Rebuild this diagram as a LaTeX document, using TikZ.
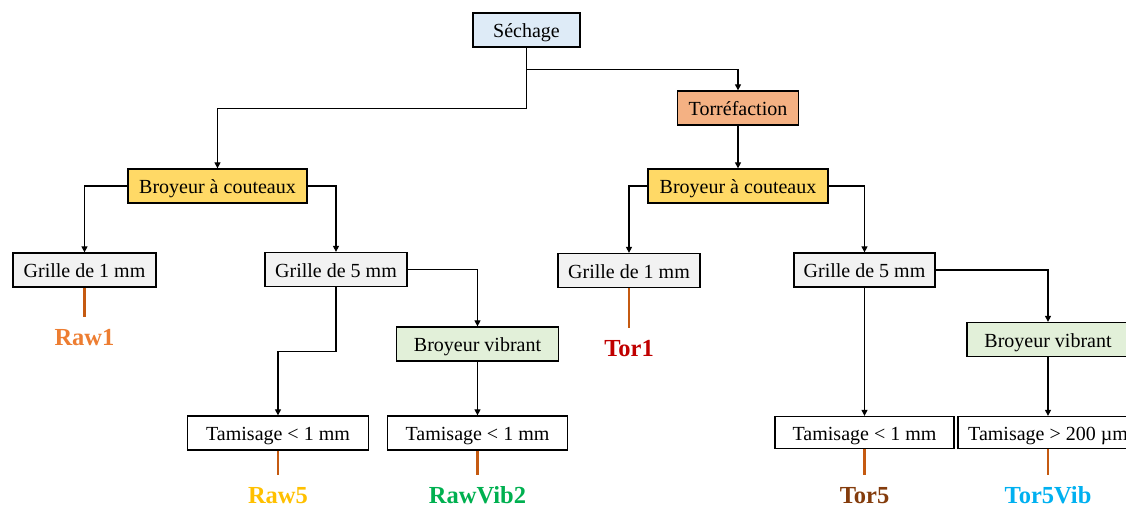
\documentclass[tikz,border=0pt]{standalone}
\usepackage{fontspec}
\setmainfont{Liberation Serif}
\usetikzlibrary{arrows.meta}
\definecolor{cSech}{HTML}{DEEBF7}
\definecolor{cTorr}{HTML}{F4B183}
\definecolor{cBroy}{HTML}{FFD966}
\definecolor{cGrille}{HTML}{F2F2F2}
\definecolor{cVib}{HTML}{E2F0D9}
\definecolor{cLine}{HTML}{C55A11}
\definecolor{cRawA}{HTML}{ED7D31}
\definecolor{cTorA}{HTML}{C00000}
\definecolor{cRawB}{HTML}{FFC000}
\definecolor{cRawC}{HTML}{00B050}
\definecolor{cTorB}{HTML}{843C0C}
\definecolor{cTorC}{HTML}{00B0F0}
\begin{document}
\begin{tikzpicture}[x=1pt,y=-1pt,
  box/.style={draw=black, line width=1.3pt, minimum height=34pt, inner sep=0pt,
    text height=15.5pt, text depth=0pt, font=\fontsize{20}{22}\selectfont},
  conn/.style={line width=1.2pt, -{Triangle[width=6pt,length=6pt]}},
  feed/.style={cLine, line width=2.6pt, shorten >=11pt},
  lab/.style={inner sep=0pt, font=\fontsize{24.5}{27}\selectfont\bfseries, text height=17pt, text depth=0pt}]
\useasboundingbox (0,0) rectangle (1126,507);
\clip (0,0) rectangle (1126,507);

% level nodes
\node[box, fill=cSech, minimum width=107pt] (sech) at (526.5,30) {Séchage};
\node[box, fill=cTorr, minimum width=121pt] (torr) at (738,108) {Torréfaction};
\node[box, fill=cBroy, minimum width=179pt] (broyL) at (217.5,186) {Broyeur à couteaux};
\node[box, fill=cBroy, minimum width=180pt] (broyR) at (738,186) {Broyeur à couteaux};
\node[box, fill=cGrille, minimum width=143pt] (gAL) at (84.5,270) {Grille de 1 mm};
\node[box, fill=cGrille, minimum width=142pt] (gBL) at (336,269.5) {Grille de 5 mm};
\node[box, fill=cGrille, minimum width=142pt] (gAR) at (629,270.5) {Grille de 1 mm};
\node[box, fill=cGrille, minimum width=141pt] (gBR) at (864.5,270) {Grille de 5 mm};
\node[box, fill=cVib, minimum width=162pt] (vibL) at (477.5,344) {Broyeur vibrant};
\node[box, fill=cVib, minimum width=162pt] (vibR) at (1048,339.5) {Broyeur vibrant};
\node[box, fill=white, minimum width=181pt] (tamA) at (278,433) {Tamisage < 1 mm};
\node[box, fill=white, minimum width=180pt] (tamB) at (477.5,433) {Tamisage < 1 mm};
\node[box, fill=white, minimum width=179pt, minimum height=32pt] (tamC) at (864.5,432.5) {Tamisage < 1 mm};
\node[box, fill=white, minimum width=180pt, minimum height=32pt] (tamD) at (1048,432.5) {Tamisage > 200 µm};

% labels
\node[lab, text=cRawA] (raw1) at (84.5,337) {Raw1};
\node[lab, text=cTorA] (tor1) at (629,348) {Tor1};
\node[lab, text=cRawB] (raw5) at (278,495) {Raw5};
\node[lab, text=cRawC] (rawvib) at (477.5,495) {RawVib2};
\node[lab, text=cTorB] (tor5) at (864.5,495) {Tor5};
\node[lab, text=cTorC] (tor5vib) at (1048,495) {Tor5Vib};

% connectors
\draw[conn] (sech.south) -- ++(0,22) -| (torr.north);
\draw[conn] (sech.south) -- ++(0,61) -| (broyL.north);
\draw[conn] (torr.south) -- (broyR.north);
\draw[conn] (broyL.west) -| (gAL.north);
\draw[conn] (broyL.east) -| (gBL.north);
\draw[conn] (gBL.east) -| (vibL.north);
\draw[conn] (gBL.south) -- ++(0,64.5) -| (tamA.north);
\draw[conn] (vibL.south) -- (tamB.north);
\draw[conn] (broyR.west) -| (gAR.north);
\draw[conn] (broyR.east) -| (gBR.north);
\draw[conn] (gBR.east) -| (vibR.north);
\draw[conn] (gBR.south) -- (tamC.north);
\draw[conn] (vibR.south) -- (tamD.north);

% feed lines to products
\draw[feed] (gAL.south) -- (raw1.north);
\draw[feed] (gAR.south) -- (tor1.north);
\draw[feed] (tamA.south) -- (raw5.north);
\draw[feed] (tamB.south) -- (rawvib.north);
\draw[feed] (tamC.south) -- (tor5.north);
\draw[feed] (tamD.south) -- (tor5vib.north);
\end{tikzpicture}
\end{document}
